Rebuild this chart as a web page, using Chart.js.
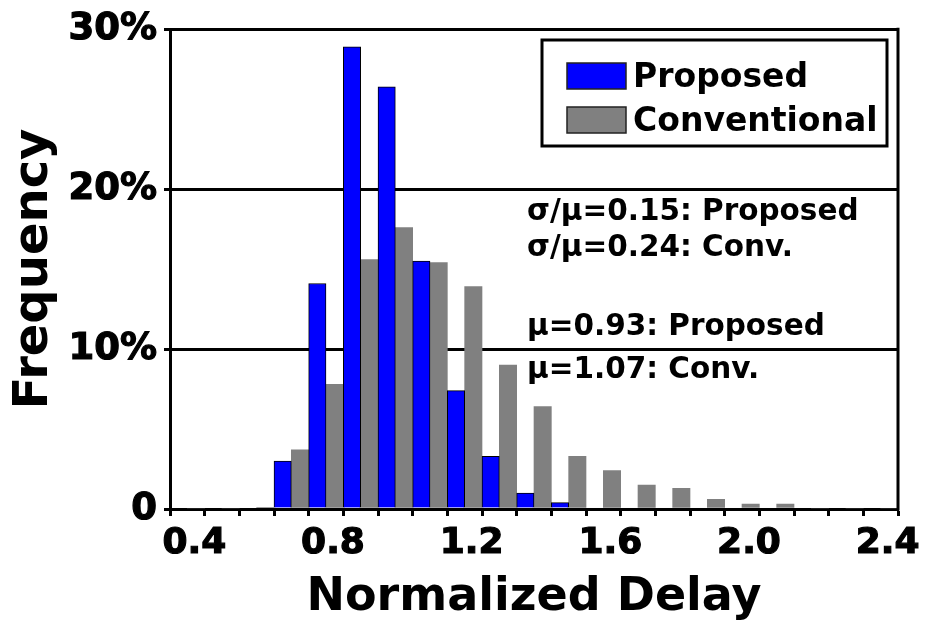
<!DOCTYPE html>
<html>
<head>
<meta charset="utf-8">
<title>Normalized Delay</title>
<script src="https://cdn.jsdelivr.net/npm/chart.js"></script>
<style>
    html, body { margin: 0; padding: 0; background: #fff; }
    #wrap { position: relative; width: 932px; height: 628px; }
</style>
</head>
<body>
<div id="wrap"><canvas id="chartDelay"></canvas></div>
<script>
// histogram bins (normalized delay) and frequencies in %
var categories = ['0.4', '0.5', '0.6', '0.7', '0.8', '0.9', '1.0', '1.1', '1.2', '1.3', '1.4',
                  '1.5', '1.6', '1.7', '1.8', '1.9', '2.0', '2.1', '2.2', '2.3', '2.4'];
var proposed = [0, 0, 0, 3.0, 14.1, 28.9, 26.4, 15.5, 7.4, 3.3, 1.0,
                0.4, 0, 0, 0, 0, 0, 0, 0, 0, 0];
var conventional = [0, 0, 0.1, 3.7, 7.8, 15.6, 17.6, 15.4, 13.9, 9.0, 6.4,
                    3.3, 2.4, 1.5, 1.3, 0.6, 0.3, 0.3, 0, 0, 0];
var xTickLabels = ['0.4', '0.8', '1.2', '1.6', '2.0', '2.4'];
var yTickValues = [0, 10, 20, 30];
var notes = ['σ/μ=0.15: Proposed', 'σ/μ=0.24: Conv.', 'μ=0.93: Proposed', 'μ=1.07: Conv.'];

var FONT = '"DejaVu Sans", "Liberation Sans", sans-serif';
Chart.defaults.font.family = FONT;
Chart.defaults.color = '#000';

// legend box + stats text + right frame line
var extras = {
    id: 'extras',
    afterDraw: function (chart) {
        var ctx = chart.ctx;
        var area = chart.chartArea;
        ctx.save();

        ctx.strokeStyle = '#000';
        ctx.lineWidth = 3;
        ctx.beginPath();
        ctx.moveTo(area.right, area.top - 1.5);
        ctx.lineTo(area.right, area.bottom + 1.5);
        ctx.stroke();

        // legend
        ctx.fillStyle = '#fff';
        ctx.fillRect(542, 40, 345, 106);
        ctx.lineWidth = 3;
        ctx.strokeRect(542, 40, 345, 106);
        ctx.font = 'bold 33px ' + FONT;
        ctx.textBaseline = 'alphabetic';
        chart.data.datasets.forEach(function (ds, i) {
            var top = 63 + i * 44;
            ctx.fillStyle = ds.backgroundColor;
            ctx.fillRect(567, top, 59, 26);
            ctx.lineWidth = 1.5;
            ctx.strokeStyle = '#222';
            ctx.strokeRect(567, top, 59, 26);
            ctx.fillStyle = '#000';
            ctx.fillText(ds.label, 633, top + 24);
        });

        // statistics
        var baselines = [220, 256, 335, 378];
        ctx.font = 'bold 29.5px ' + FONT;
        ctx.fillStyle = '#000';
        notes.forEach(function (t, i) {
            ctx.fillText(t, 527, baselines[i]);
        });
        ctx.restore();
    }
};

var ctx = document.getElementById('chartDelay');
var delayChart = new Chart(ctx, {
    type: 'bar',
    data: {
        labels: categories,
        datasets: [{
            label: 'Proposed',
            data: proposed,
            backgroundColor: '#0000FF',
            borderColor: '#000',
            borderWidth: 1
        }, {
            label: 'Conventional',
            data: conventional,
            backgroundColor: '#808080',
            borderWidth: 0
        }]
    },
    options: {
        responsive: true,
        maintainAspectRatio: false,
        animation: false,
        layout: { padding: { left: 0, right: 34, top: 27, bottom: 0 } },
        datasets: {
            bar: { categoryPercentage: 1.0, barPercentage: 1.0 }
        },
        plugins: {
            legend: { display: false },
            tooltip: { enabled: false }
        },
        scales: {
            x: {
                grid: {
                    offset: true,
                    drawOnChartArea: false,
                    drawTicks: true,
                    tickLength: 7,
                    tickWidth: 3,
                    color: '#000'
                },
                border: { color: '#000', width: 3 },
                ticks: {
                    autoSkip: false,
                    maxRotation: 0,
                    padding: 6,
                    labelOffset: 7,
                    textStrokeColor: '#000',
                    textStrokeWidth: 1.2,
                    font: { size: 36, weight: 'bold' },
                    callback: function (value, index) {
                        return xTickLabels.indexOf(categories[index]) >= 0 ? categories[index] : '';
                    }
                },
                title: {
                    display: true,
                    text: 'Normalized Delay',
                    font: { size: 46, weight: 'bold' },
                    padding: { top: 0, bottom: 2 }
                },
                afterFit: function (scale) { scale.height = 119; }
            },
            y: {
                min: 0,
                max: 30,
                grid: {
                    color: '#000',
                    lineWidth: 3,
                    tickLength: 6
                },
                border: { color: '#000', width: 3 },
                ticks: {
                    stepSize: 10,
                    padding: 7,
                    textStrokeColor: '#000',
                    textStrokeWidth: 1.2,
                    font: { size: 37, weight: 'bold' },
                    callback: function (value) {
                        if (yTickValues.indexOf(value) < 0) return '';
                        return value === 0 ? '0' : value + '%';
                    }
                },
                title: {
                    display: true,
                    text: 'Frequency',
                    font: { size: 48, weight: 'bold' },
                    padding: { top: 6, bottom: 0 }
                },
                afterFit: function (scale) { scale.width = 170; }
            }
        }
    },
    plugins: [extras]
});
</script>
</body>
</html>
